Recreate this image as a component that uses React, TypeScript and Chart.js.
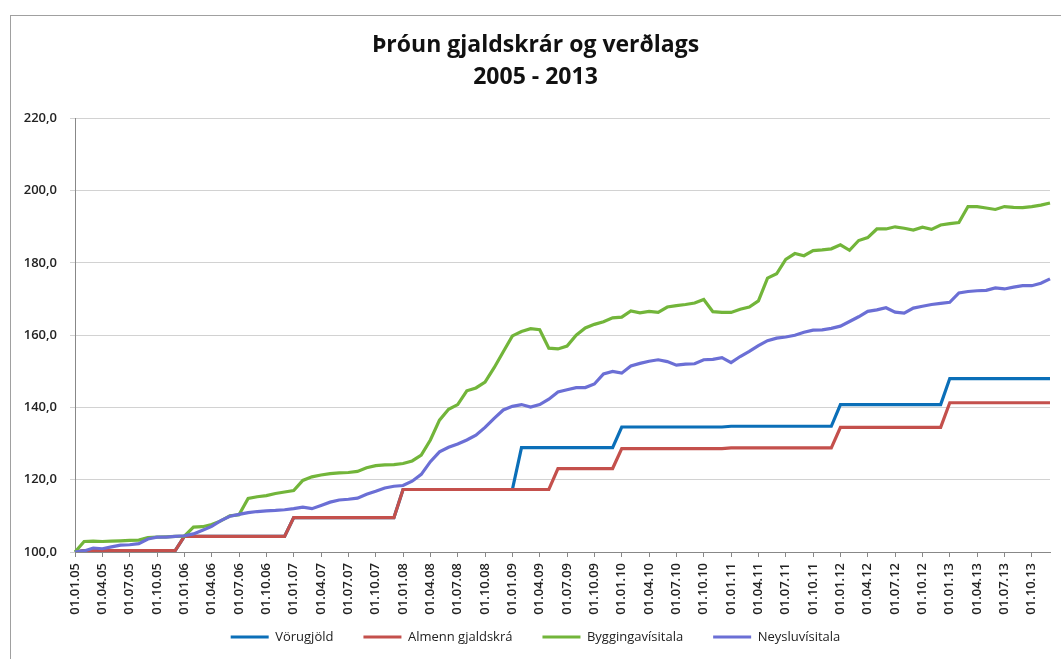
import React, { useEffect, useRef } from "react";
import { Chart, registerables } from "chart.js";

Chart.register(...registerables);

const years = ["05", "06", "07", "08", "09", "10", "11", "12", "13"];
const months = ["01", "02", "03", "04", "05", "06", "07", "08", "09", "10", "11", "12"];
const categories = years.flatMap((y) => months.map((m) => `01.${m}.${y}`));

const titleLines = ["Þróun gjaldskrár og verðlags", "2005 - 2013"];
const yTicks = [100, 120, 140, 160, 180, 200, 220];

const vorugjold = [
  100.0, 100.4, 100.4, 100.4, 100.4, 100.4, 100.4, 100.4, 100.4, 100.4, 100.4, 100.4,
  104.3, 104.3, 104.3, 104.3, 104.3, 104.3, 104.3, 104.3, 104.3, 104.3, 104.3, 104.3,
  109.5, 109.5, 109.5, 109.5, 109.5, 109.5, 109.5, 109.5, 109.5, 109.5, 109.5, 109.5,
  117.3, 117.3, 117.3, 117.3, 117.3, 117.3, 117.3, 117.3, 117.3, 117.3, 117.3, 117.3,
  117.3, 128.9, 128.9, 128.9, 128.9, 128.9, 128.9, 128.9, 128.9, 128.9, 128.9, 128.9,
  134.6, 134.6, 134.6, 134.6, 134.6, 134.6, 134.6, 134.6, 134.6, 134.6, 134.6, 134.6,
  134.8, 134.8, 134.8, 134.8, 134.8, 134.8, 134.8, 134.8, 134.8, 134.8, 134.8, 134.8,
  140.8, 140.8, 140.8, 140.8, 140.8, 140.8, 140.8, 140.8, 140.8, 140.8, 140.8, 140.8,
  148.0, 148.0, 148.0, 148.0, 148.0, 148.0, 148.0, 148.0, 148.0, 148.0, 148.0, 148.0,
];

const almennGjaldskra = [
  100.0, 100.4, 100.4, 100.4, 100.4, 100.4, 100.4, 100.4, 100.4, 100.4, 100.4, 100.4,
  104.3, 104.3, 104.3, 104.3, 104.3, 104.3, 104.3, 104.3, 104.3, 104.3, 104.3, 104.3,
  109.5, 109.5, 109.5, 109.5, 109.5, 109.5, 109.5, 109.5, 109.5, 109.5, 109.5, 109.5,
  117.3, 117.3, 117.3, 117.3, 117.3, 117.3, 117.3, 117.3, 117.3, 117.3, 117.3, 117.3,
  117.3, 117.3, 117.3, 117.3, 117.3, 123.1, 123.1, 123.1, 123.1, 123.1, 123.1, 123.1,
  128.6, 128.6, 128.6, 128.6, 128.6, 128.6, 128.6, 128.6, 128.6, 128.6, 128.6, 128.6,
  128.8, 128.8, 128.8, 128.8, 128.8, 128.8, 128.8, 128.8, 128.8, 128.8, 128.8, 128.8,
  134.5, 134.5, 134.5, 134.5, 134.5, 134.5, 134.5, 134.5, 134.5, 134.5, 134.5, 134.5,
  141.3, 141.3, 141.3, 141.3, 141.3, 141.3, 141.3, 141.3, 141.3, 141.3, 141.3, 141.3,
];

const byggingavisitala = [
  100.0, 102.9, 103.0, 102.9, 103.0, 103.1, 103.2, 103.3, 104.0, 104.1, 104.2, 104.3,
  104.4, 106.9, 107.0, 107.6, 108.6, 110.0, 110.3, 114.8, 115.3, 115.6, 116.2, 116.6,
  117.0, 119.8, 120.8, 121.3, 121.7, 121.9, 122.0, 122.3, 123.3, 123.9, 124.1, 124.2,
  124.5, 125.2, 126.8, 131.0, 136.5, 139.5, 140.8, 144.6, 145.4, 147.0, 151.0, 155.4,
  159.8, 161.0, 161.8, 161.5, 156.4, 156.2, 157.0, 160.0, 162.0, 163.0, 163.7, 164.8,
  165.0, 166.7, 166.2, 166.6, 166.3, 167.8, 168.2, 168.5, 168.9, 169.9, 166.5, 166.3,
  166.3, 167.2, 167.8, 169.5, 175.8, 177.0, 181.0, 182.6, 182.0, 183.4, 183.6, 183.9,
  185.0, 183.5, 186.2, 187.0, 189.4, 189.4, 190.0, 189.6, 189.1, 189.9, 189.3, 190.5,
  190.9, 191.2, 195.6, 195.6, 195.2, 194.8, 195.6, 195.4, 195.3, 195.6, 196.0, 196.6,
];

const neysluvisitala = [
  100.0, 100.3, 101.1, 100.9, 101.4, 101.9, 102.0, 102.3, 103.6, 104.1, 104.1, 104.3,
  104.5, 105.0, 106.0, 107.1, 108.7, 109.9, 110.4, 110.9, 111.2, 111.4, 111.5, 111.7,
  112.0, 112.4, 112.0, 112.9, 113.8, 114.4, 114.6, 114.9, 116.0, 116.8, 117.7, 118.2,
  118.4, 119.6, 121.5, 125.0, 127.7, 129.0, 129.9, 131.0, 132.3, 134.5, 137.0, 139.3,
  140.3, 140.8, 140.1, 140.8, 142.3, 144.3, 144.9, 145.5, 145.5, 146.5, 149.3, 150.0,
  149.5, 151.5, 152.2, 152.8, 153.2, 152.7, 151.7, 152.0, 152.1, 153.2, 153.3, 153.8,
  152.4, 154.1, 155.5, 157.1, 158.5, 159.2, 159.5, 160.0, 160.8, 161.4, 161.5, 161.9,
  162.5, 163.8, 165.1, 166.6, 167.0, 167.6, 166.4, 166.1, 167.5, 168.0, 168.5, 168.8,
  169.1, 171.7, 172.1, 172.3, 172.4, 173.1, 172.8, 173.3, 173.7, 173.7, 174.4, 175.6,
];

const seriesNames = ["Vörugjöld", "Almenn gjaldskrá", "Byggingavísitala", "Neysluvísitala"];
const seriesColors = ["#0b6fb8", "#c4504c", "#72b53a", "#6b6fd5"];
const seriesValues = [vorugjold, almennGjaldskra, byggingavisitala, neysluvisitala];
const drawOrder = [3, 2, 1, 0];

// Legend: keep wide horizontal spacing (labels.padding) but place the row freely.
const LEGEND_PAD = 30;
const LEGEND_FONT = 13;
const LEGEND_CENTER_Y = 637;

const legendTweak = {
  id: "legendTweak",
  afterInit(chart: any) {
    const lg = chart.legend;
    if (!lg) return;
    const orig = lg.fit.bind(lg);
    lg.fit = () => {
      orig();
      lg.height = 28;
    };
  },
  afterLayout(chart: any) {
    const lg = chart.legend;
    if (!lg) return;
    const top = LEGEND_CENTER_Y - LEGEND_PAD - LEGEND_FONT / 2;
    lg.top = top;
    lg.bottom = chart.height;
    lg.height = chart.height - top;
  },
};

export default function App() {
  const canvasRef = useRef<HTMLCanvasElement | null>(null);

  useEffect(() => {
    const canvas = canvasRef.current;
    if (!canvas) return;
    const chart = new Chart(canvas, {
      type: "line",
      data: {
        labels: categories,
        datasets: seriesNames.map((name, i) => ({
          label: name,
          data: seriesValues[i],
          borderColor: seriesColors[i],
          backgroundColor: seriesColors[i],
          borderWidth: 3.2,
          pointRadius: 0,
          pointHoverRadius: 0,
          tension: 0,
          fill: false,
          order: drawOrder[i],
          yAxisID: "y",
        })),
      },
      plugins: [legendTweak],
      options: {
        responsive: false,
        animation: false,
        layout: { padding: { left: 10, right: 0, top: 0, bottom: 13 } },
        plugins: {
          tooltip: { enabled: false },
          title: {
            display: true,
            text: titleLines,
            color: "#111",
            font: { family: "'Open Sans', sans-serif", size: 23, weight: "bold", lineHeight: 1.4 },
            padding: { top: 29, bottom: 25 },
          },
          legend: {
            position: "bottom",
            labels: {
              sort: (a: any, b: any) => a.datasetIndex - b.datasetIndex,
              usePointStyle: true,
              pointStyle: "line",
              pointStyleWidth: 38,
              boxHeight: 12,
              color: "#222",
              padding: LEGEND_PAD,
              font: { family: "'Open Sans', sans-serif", size: LEGEND_FONT },
            },
          },
        },
        scales: {
          x: {
            type: "category",
            offset: false,
            afterFit: (s: any) => {
              s.height = 66;
            },
            grid: {
              drawOnChartArea: false,
              drawTicks: true,
              tickLength: 5,
              color: "#888",
            },
            border: { display: true, color: "#888", width: 1 },
            ticks: {
              autoSkip: false,
              maxRotation: 90,
              minRotation: 90,
              padding: 6,
              color: "#222",
              font: { family: "'Open Sans', sans-serif", size: 13, weight: 600 },
              callback: (_v: any, i: number) => (i % 3 === 0 ? categories[i] : null),
            },
          },
          y: {
            min: 100,
            max: 220,
            afterFit: (s: any) => {
              s.width = 65;
            },
            afterBuildTicks: (s: any) => {
              s.ticks = yTicks.map((v) => ({ value: v }));
            },
            grid: {
              color: "#d2d2d2",
              tickLength: 5,
              drawTicks: true,
            },
            border: { display: true, color: "#888", width: 1 },
            ticks: {
              padding: 13,
              color: "#222",
              font: { family: "'Open Sans', sans-serif", size: 13, weight: 600 },
              callback: (v: any) => Number(v).toFixed(1).replace(".", ","),
            },
          },
          rightSpace: {
            type: "linear",
            position: "right",
            display: true,
            afterFit: (s: any) => {
              s.width = 11;
            },
            grid: { display: false, drawTicks: false },
            border: { display: false },
            ticks: { display: false },
          },
        },
      },
    });
    return () => chart.destroy();
  }, []);

  return (
    <div style={{ position: "fixed", left: 0, top: 0, width: 1061, height: 659, background: "#fff", overflow: "hidden" }}>
      <div
        style={{
          position: "absolute",
          left: 10,
          top: 15,
          width: 1100,
          height: 700,
          borderLeft: "1px solid #a0a0a0",
          borderTop: "1px solid #a0a0a0",
        }}
      />
      <canvas ref={canvasRef} width={1061} height={659} style={{ position: "absolute", left: 0, top: 0 }} />
    </div>
  );
}
